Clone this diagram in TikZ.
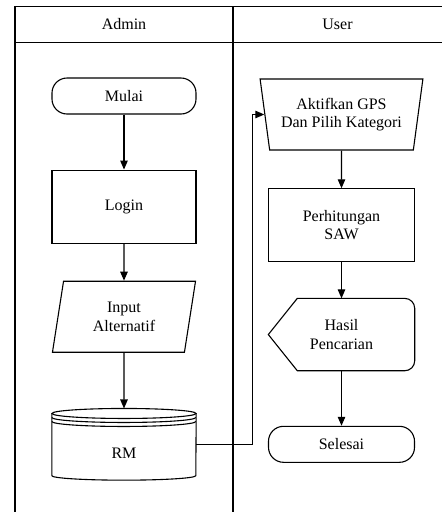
\documentclass[tikz,border=0pt]{standalone}
\usepackage{fontspec}
\setmainfont{Liberation Serif}
\usetikzlibrary{arrows.meta,positioning,shapes.geometric}

\begin{document}
\begin{tikzpicture}[
  x=1pt, y=-1pt,
  node distance=55pt,
  base/.style={draw, line width=1.1pt, minimum width=144pt, align=center,
               font=\fontsize{16}{18.5}\selectfont},
  terminal/.style={base, rectangle, rounded corners=15pt, minimum height=36pt},
  process/.style={base, rectangle, minimum height=73pt},
  inputbox/.style={base, trapezium, trapezium left angle=80, trapezium right angle=100,
                   trapezium stretches=true, minimum height=71pt},
  manual/.style={base, trapezium, shape border rotate=180, trapezium angle=78,
                 trapezium stretches=true, minimum width=163pt, minimum height=71pt},
  store/.style={minimum width=144pt, minimum height=71.3pt, inner sep=0pt,
                font=\fontsize{16}{18.5}\selectfont},
  screen/.style={minimum width=146pt, minimum height=72pt, inner sep=0pt, align=center,
                 font=\fontsize{16}{18.5}\selectfont},
  lane/.style={line width=1.6pt},
  shapeline/.style={line width=1.1pt},
  flow/.style={-{Triangle[length=9pt,width=7.5pt]}, line width=1.1pt},
]
\useasboundingbox (0,0) rectangle (442,512);

% swimlanes
\draw[lane] (15,512) -- (15,6.5) -- (442,6.5);
\draw[lane] (15,42.5) -- (442,42.5);
\draw[lane] (233,6.5) -- (233,512);
\node[font=\fontsize{16}{18.5}\selectfont] (admin) at (124,24.5) {Admin};
\node[font=\fontsize{16}{18.5}\selectfont] (user) at (337.5,24.5) {User};

% admin lane
\node[terminal] (mulai) at (124,96) {Mulai};
\node[process, below=of mulai] (login) {Login};
\node[inputbox, below=37pt of login] (alt) {Input\\Alternatif};
\node[store, below=55.7pt of alt, label={[yshift=-9pt,font=\fontsize{16}{18.5}\selectfont]center:RM}] (rm) {};

% user lane
\node[manual] (gps) at (341.5,114.5) {Aktifkan GPS\\Dan Pilih Kategori};
\node[process, minimum width=146pt, below=37.7pt of gps] (saw) {Perhitungan\\SAW};
\node[screen, below=36pt of saw] (hasil) {Hasil\\Pencarian};
\node[terminal, minimum width=146pt, below=of hasil] (selesai) {Selesai};

% database symbol
\draw[shapeline] ([yshift=-5pt]rm.north) ellipse[x radius=72pt, y radius=5pt];
\draw[shapeline] ([yshift=-9pt]rm.north west) arc[start angle=180, end angle=360, x radius=72pt, y radius=5pt];
\draw[shapeline] ([yshift=-13pt]rm.north west) arc[start angle=180, end angle=360, x radius=72pt, y radius=5pt];
\draw[shapeline] ([yshift=-5pt]rm.north west) -- ([yshift=4.5pt]rm.south west)
  arc[start angle=180, end angle=360, x radius=72pt, y radius=4.5pt] -- ([yshift=-5pt]rm.north east);

% display symbol
\draw[shapeline] (hasil.west) -- ([xshift=29pt]hasil.north west)
  [rounded corners=10pt] -- (hasil.north east) -- (hasil.south east)
  [sharp corners] -- ([xshift=29pt]hasil.south west) -- cycle;

% flows
\draw[flow] (mulai) -- (login);
\draw[flow] (login) -- (alt);
\draw[flow] (alt) -- (rm);
\draw[flow] (rm.east) -- ++(56,0) |- (gps.west);
\draw[flow] (gps) -- (saw);
\draw[flow] (saw) -- (hasil);
\draw[flow] (hasil) -- (selesai);

\end{tikzpicture}
\end{document}
